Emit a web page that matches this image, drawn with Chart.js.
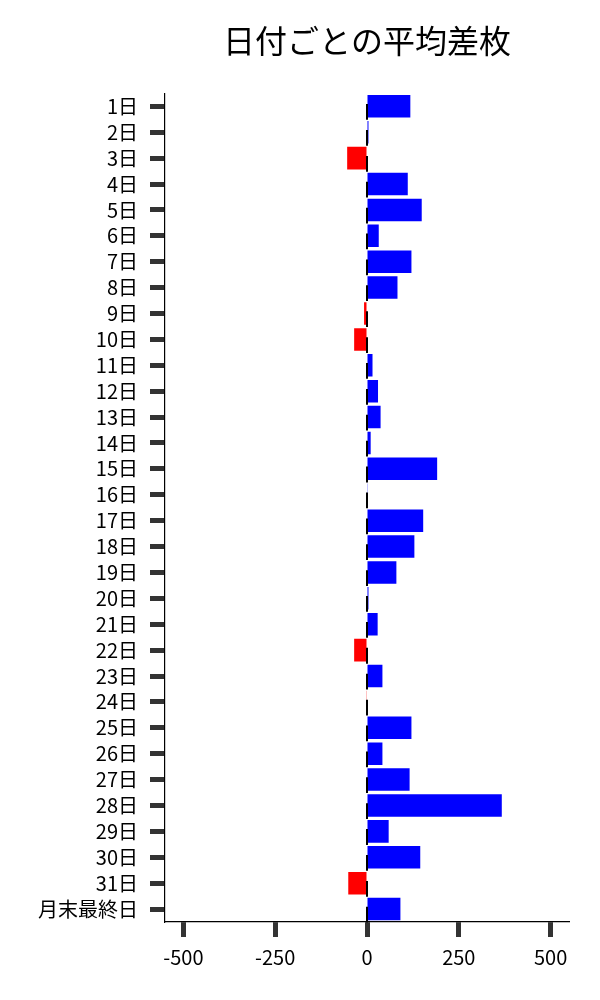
<!DOCTYPE html>
<html>
<head>
<meta charset="utf-8">
<script src="https://cdn.jsdelivr.net/npm/chart.js@4/dist/chart.umd.min.js"></script>
<style>
    html, body { margin: 0; padding: 0; background: #fff; }
    #wrap { width: 600px; height: 1000px; position: relative; }
</style>
</head>
<body>
<div id="wrap"><canvas id="chart"></canvas></div>
<script>
// --- DATA ---
const days = ['1日', '2日', '3日', '4日', '5日', '6日', '7日', '8日', '9日', '10日',
    '11日', '12日', '13日', '14日', '15日', '16日', '17日', '18日', '19日', '20日',
    '21日', '22日', '23日', '24日', '25日', '26日', '27日', '28日', '29日', '30日',
    '31日', '月末最終日'];
const avgDiff = [118, 4, -54, 111, 149, 32, 121, 83, -8, -35,
    15, 30, 37, 10, 191, 2, 153, 129, 80, 4,
    29, -35, 42, -2, 121, 42, 116, 367, 59, 145,
    -51, 91];
const xTicks = [-500, -250, 0, 250, 500];
const xMin = -550;
const xMax = 550;

const FONT = '"Noto Sans CJK JP", "Noto Sans", sans-serif';

// small black mark at the zero line for every bar
const zeroMarks = {
    id: 'zeroMarks',
    afterDatasetsDraw(chart) {
        const ctx = chart.ctx;
        const x0 = chart.scales.x.getPixelForValue(0);
        const meta = chart.getDatasetMeta(0);
        ctx.save();
        ctx.strokeStyle = '#000';
        ctx.lineWidth = 2;
        meta.data.forEach(bar => {
            const h = bar.height;
            ctx.beginPath();
            ctx.moveTo(x0, bar.y - h * 0.1);
            ctx.lineTo(x0, bar.y + h * 0.6);
            ctx.stroke();
        });
        ctx.restore();
    }
};

const ctx = document.getElementById('chart').getContext('2d');
new Chart(ctx, {
    type: 'bar',
    data: {
        labels: days,
        datasets: [{
            data: avgDiff,
            backgroundColor: avgDiff.map(v => v < 0 ? '#ff0000' : '#0000ff'),
            borderWidth: 0,
            categoryPercentage: 1.0,
            barPercentage: 0.87
        }]
    },
    options: {
        indexAxis: 'y',
        responsive: true,
        maintainAspectRatio: false,
        animation: false,
        layout: { padding: { left: 0, right: 31, top: 0, bottom: 0 } },
        plugins: {
            legend: { display: false },
            tooltip: { enabled: false },
            title: {
                display: true,
                text: '日付ごとの平均差枚',
                fullSize: false,
                color: '#000',
                font: { family: FONT, size: 32, weight: 'normal' },
                padding: { top: 22, bottom: 33 }
            }
        },
        scales: {
            x: {
                type: 'linear',
                min: xMin,
                max: xMax,
                afterBuildTicks: scale => { scale.ticks = xTicks.map(v => ({ value: v })); },
                afterFit: scale => { scale.height = 78; },
                border: { display: true, color: '#000', width: 1.2 },
                grid: {
                    drawOnChartArea: false,
                    drawTicks: true,
                    tickLength: 15,
                    tickWidth: 5,
                    tickColor: '#333'
                },
                ticks: {
                    color: '#000',
                    padding: 8,
                    font: { family: FONT, size: 20 }
                }
            },
            y: {
                offset: true,
                afterFit: scale => { scale.width = 165; },
                border: { display: true, color: '#000', width: 1.2 },
                grid: {
                    offset: false,
                    drawOnChartArea: false,
                    drawTicks: true,
                    tickLength: 15,
                    tickWidth: 5,
                    tickColor: '#333'
                },
                ticks: {
                    color: '#000',
                    padding: 12,
                    autoSkip: false,
                    font: { family: FONT, size: 20 }
                }
            }
        }
    },
    plugins: [zeroMarks]
});
</script>
</body>
</html>
